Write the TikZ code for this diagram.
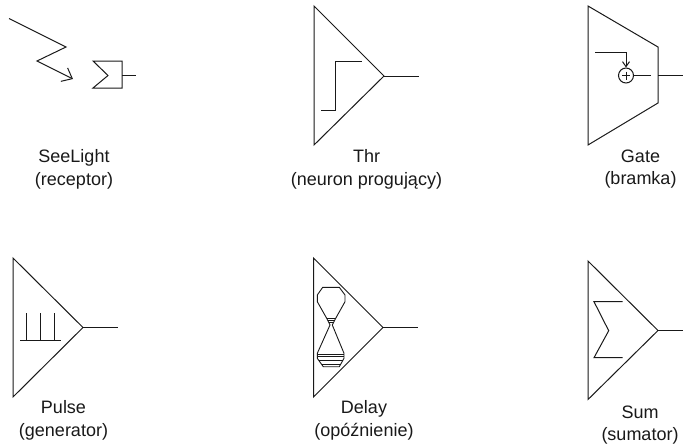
\documentclass[tikz,border=0pt]{standalone}
\usepackage{fontspec}
\setmainfont{Liberation Sans}
\usetikzlibrary{arrows.meta}

\begin{document}
\begin{tikzpicture}[
        x=1pt, y=-1pt,
        symbol/.style={line width=1pt, black!90, line join=miter},
        caption/.style={align=center, font=\fontsize{18}{22.7}\selectfont, text=black!90, inner sep=0pt},
        ray/.style={symbol, -{Straight Barb[length=9pt, width=15pt]}},
        feed/.style={symbol, -{Straight Barb[length=5pt, width=7pt]}},
        plus/.style={circle, draw=black!90, line width=1pt, minimum size=15pt, inner sep=0pt}
    ]
        \useasboundingbox (0,0) rectangle (683,445);

        % SeeLight
        \coordinate (rayA) at (9,18.5);
        \coordinate (rayB) at (66,47);
        \coordinate (rayC) at (37,61);
        \coordinate (rayD) at (73,79);
        \draw[ray] (rayA) -- (rayB) -- (rayC) -- (rayD);
        \coordinate (seeTip) at (122,75.5);
        \coordinate (seeOut) at (136,75.5);
        \draw[symbol] (seeTip) -- (122,61) -- (93,61) -- (108,75.5) -- (93,88) -- (122,88) -- cycle;
        \draw[symbol] (seeTip) -- (seeOut);
        \node[caption] (seeLabel) at (74,169) {SeeLight\\(receptor)};

        % Thr
        \coordinate (thrTip) at (384,76);
        \coordinate (thrOut) at (419,76);
        \draw[symbol] (314,6) -- (thrTip) -- (314,145) -- cycle;
        \draw[symbol] (thrTip) -- (thrOut);
        \draw[symbol] (321,110) -- (335,110) -- (335,61) -- (362,61);
        \node[caption] (thrLabel) at (366.5,169.5) {Thr\\(neuron progujący)};

        % Gate
        \coordinate (gateEdge) at (658,75.5);
        \coordinate (gateOut) at (683,75.5);
        \coordinate (gateIn) at (595,52);
        \coordinate (gateInner) at (651,75.5);
        \draw[symbol] (588,6) -- (658,47) -- (658,103) -- (588,145) -- cycle;
        \draw[symbol] (gateEdge) -- (gateOut);
        \node[plus] (gatePlus) at (626,75.5) {};
        \draw[symbol] (622,75.5) -- (630,75.5);
        \draw[symbol] (626,71.5) -- (626,79.5);
        \draw[feed] (gateIn) -| (gatePlus.north);
        \draw[symbol] (gatePlus) -- (gateInner);
        \node[caption] (gateLabel) at (640.5,169) {Gate\\(bramka)};

        % Pulse
        \coordinate (pulseTip) at (83,327.5);
        \coordinate (pulseOut) at (118,327.5);
        \draw[symbol] (13,258) -- (pulseTip) -- (13,397) -- cycle;
        \draw[symbol] (pulseTip) -- (pulseOut);
        \draw[symbol] (20,340.5) -- (61,340.5);
        \foreach \x in {26,40,54.5}
            \draw[symbol] (\x,313) -- (\x,340.5);
        \node[caption] (pulseLabel) at (63.5,420.5) {Pulse\\(generator)};

        % Delay
        \coordinate (delayTip) at (383,327.5);
        \coordinate (delayOut) at (418,327.5);
        \draw[symbol] (313.5,258) -- (delayTip) -- (313.5,397) -- cycle;
        \draw[symbol] (delayTip) -- (delayOut);
        \draw[symbol, line width=0.9pt] (322.7,287.3) -- (339.3,287.3) -- (345,295) -- (345,301.7) -- (335.7,318.3)
            -- (332.3,325) -- (344,353.3) -- (344,358.3) -- (339.3,366.7) -- (323.3,366.7)
            -- (317.3,358.3) -- (317.3,353.3) -- (330,325) -- (326.7,318.3) -- (317.3,301.7) -- (317.3,295) -- cycle;
        \foreach \y/\a/\b in {318.3/326.7/335.7, 320.7/327.8/334.6, 322.7/328.8/333.6}
            \draw[symbol, line width=0.8pt] (\a,\y) -- (\b,\y);
        \foreach \y/\a/\b in {354.3/317.3/344, 356.7/317.3/344, 360.7/319/342.5, 364/321.5/341}
            \draw[symbol, line width=0.8pt] (\a,\y) -- (\b,\y);
        \node[caption] (delayLabel) at (364,420.5) {Delay\\(opóźnienie)};

        % Sum
        \coordinate (sumTip) at (658,330.5);
        \coordinate (sumOut) at (683,330.5);
        \draw[symbol] (588,261) -- (sumTip) -- (588,399.5) -- cycle;
        \draw[symbol] (sumTip) -- (sumOut);
        \draw[symbol] (622.7,301.7) -- (594,301.7) -- (608.7,330.7) -- (594,357.7) -- (622.7,357.7);
        \node[caption] (sumLabel) at (640,425) {Sum\\(sumator)};

    \end{tikzpicture}
\end{document}
